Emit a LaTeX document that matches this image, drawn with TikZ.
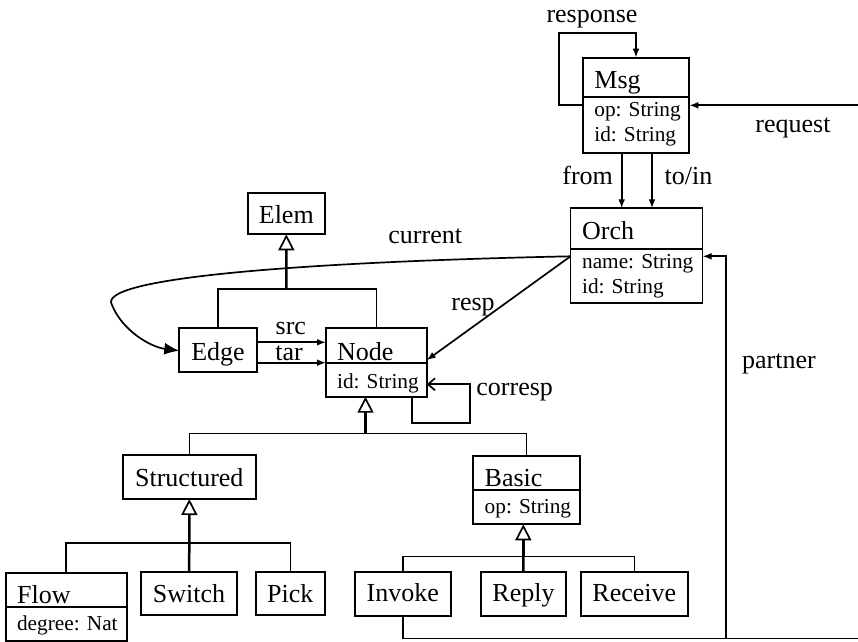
\documentclass[tikz,border=0pt]{standalone}
\usepackage{fontspec}
\setmainfont{Liberation Serif}
\usetikzlibrary{arrows.meta,calc}
\tikzset{
  cls/.style={draw, line width=0.9pt, inner sep=0pt, outer sep=0pt, anchor=north west},
  wh/.style 2 args={minimum width=#1*0.5pt, minimum height=#2*0.5pt},
  nm/.style={font=\fontsize{13}{15}\selectfont, inner sep=0pt},
  attr/.style={font=\fontsize{10.65}{13}\selectfont, inner sep=0pt, anchor=base west},
  lbl/.style={font=\fontsize{13}{15}\selectfont, inner sep=0pt},
  link/.style={line width=0.85pt},
  thicklink/.style={line width=1.25pt},
  assoc/.style={line width=0.85pt, -{Latex[length=4.5pt,width=3.4pt]}},
  bigassoc/.style={line width=0.85pt, -{Latex[length=7.5pt,width=6pt]}},
  openassoc/.style={line width=0.85pt, -{Straight Barb[length=3.5pt,width=6pt]}},
  stem/.style={line width=1.25pt, -{Triangle[open,length=8pt,width=8pt,line width=0.85pt]}},
}
\begin{document}
\begin{tikzpicture}[x=0.5pt,y=-0.5pt]
\useasboundingbox (0,0) rectangle (858,642);

% ---------- classes ----------
\node[cls, wh={106.6}{95}] (msg) at (582.7,57.7) {};
\node[nm, anchor=base west] (msgN) at (594,89) {Msg};
\node[attr] (msgA1) at (594,116.7) {op: String};
\node[attr] (msgA2) at (594,141.7) {id: String};
\draw[link] ($(msg.north west)+(0,39.6)$) -- ($(msg.north east)+(0,39.6)$);

\node[cls, wh={132}{95}] (orch) at (570.5,208.3) {};
\node[nm, anchor=base west] (orchN) at (581.7,240) {Orch};
\node[attr] (orchA1) at (581.7,268.3) {name: String};
\node[attr] (orchA2) at (581.7,293.3) {id: String};
\draw[link] ($(orch.north west)+(0,41)$) -- ($(orch.north east)+(0,41)$);

\node[cls, wh={77.3}{41}] (elem) at (247.7,193.3) {};
\node[nm, anchor=base] (elemN) at (286.3,224) {Elem};

\node[cls, wh={77.4}{44}] (edge) at (179.3,327.7) {};
\node[nm, anchor=base] (edgeN) at (218,360) {Edge};

\node[cls, wh={100.7}{69}] (node) at (326,327.7) {};
\node[nm, anchor=base west] (nodeN) at (336.7,360) {Node};
\node[attr] (nodeA1) at (336.7,388.3) {id: String};
\draw[link] ($(node.north west)+(0,35.6)$) -- ($(node.north east)+(0,35.6)$);

\node[cls, wh={132.7}{44}] (structured) at (123,455) {};
\node[nm, anchor=base] (structuredN) at (189.3,486.7) {Structured};

\node[cls, wh={106.5}{68.6}] (basic) at (473.3,455.7) {};
\node[nm, anchor=base west] (basicN) at (484.3,486) {Basic};
\node[attr] (basicA1) at (484.3,513.3) {op: String};
\draw[link] ($(basic.north west)+(0,34)$) -- ($(basic.north east)+(0,34)$);

\node[cls, wh={121}{68.3}] (flow) at (5.7,572.7) {};
\node[nm, anchor=base west] (flowN) at (16.7,603.3) {Flow};
\node[attr] (flowA1) at (16.7,630.7) {degree: Nat};
\draw[link] ($(flow.north west)+(0,34.6)$) -- ($(flow.north east)+(0,34.6)$);

\node[cls, wh={96.3}{43.6}] (switch) at (141,571.7) {};
\node[nm, anchor=base] (switchN) at (189.1,602.7) {Switch};

\node[cls, wh={69.3}{43.6}] (pick) at (255.7,571.7) {};
\node[nm, anchor=base] (pickN) at (290.3,602.7) {Pick};

\node[cls, wh={95.7}{44.3}] (invoke) at (355,571.7) {};
\node[nm, anchor=base] (invokeN) at (402.8,601.7) {Invoke};

\node[cls, wh={85}{44.3}] (reply) at (481,571.7) {};
\node[nm, anchor=base] (replyN) at (523.5,601.7) {Reply};

\node[cls, wh={107.3}{44.3}] (receive) at (580.7,571.7) {};
\node[nm, anchor=base] (receiveN) at (634.3,601.7) {Receive};

% ---------- generalisations ----------
\coordinate (gElem) at (286.3,289.3);
\draw[stem] (gElem) -- (elem.south);
\draw[link] (edge.north) |- (gElem) -| (node.north);

\coordinate (gNode) at (365.5,433.5);
\draw[stem] (gNode) -- ($(node.south west)+(39.5,0)$);
\draw[link] (structured.north) |- (gNode) -| (basic.north);

\coordinate (gStr) at (189.3,543.3);
\draw[stem] (gStr) -- (structured.south);
\draw[link] (flow.north) |- (gStr) -| (pick.north);
\draw[thicklink] (switch.north) -- (gStr);

\coordinate (gBas) at (523.3,556.5);
\draw[stem] (gBas) -- ($(basic.south west)+(50,0)$);
\draw[link] (invoke.north) |- (gBas) -| (receive.north);
\draw[thicklink] (reply.north) -- (gBas);

% ---------- associations ----------
\draw[assoc] ($(msg.north west)+(0,47.3)$) -- ++(-23.4,0) -- ++(0,-72) -| ($(msg.north west)+(53.3,0)$);
\node[lbl, anchor=base] (responseL) at (592,23) {response};

\coordinate (reqEnd) at (862,105.3);
\draw[assoc] (reqEnd) -- ($(msg.north east)+(0,47.6)$);
\node[lbl, anchor=base west] (requestL) at (755,133) {request};

\draw[assoc] ($(msg.south west)+(39,0)$) -- ($(orch.north west)+(51.2,0)$);
\draw[assoc] ($(msg.south west)+(69.3,0)$) -- ($(orch.north west)+(81.5,0)$);
\node[lbl, anchor=base east] (fromL) at (613.3,185) {from};
\node[lbl, anchor=base west] (toinL) at (664.3,185) {to/in};

\draw[bigassoc] ($(orch.north west)+(0,48)$) .. controls (300,262) and (95,278) .. (112,305)
  .. controls (122,330) and (150,347) .. ($(edge.north west)+(0,23)$);
\node[lbl, anchor=base west] (currentL) at (388,243.3) {current};

\draw[assoc] ($(orch.north west)+(0,48)$) -- ($(node.north east)+(0,32.5)$);
\node[lbl, anchor=base] (respL) at (473,310) {resp};

\draw[openassoc] ($(node.south west)+(85.7,0)$) -- ++(0,26.6) -- ++(58.3,0) |- ($(node.north east)+(0,56.6)$);
\node[lbl, anchor=base west] (correspL) at (476,395) {corresp};

\draw[assoc] ($(edge.north east)+(0,14.6)$) -- ($(node.north west)+(0,14.6)$);
\draw[assoc] ($(edge.north east)+(0,35)$) -- ($(node.north west)+(0,35)$);
\node[lbl, anchor=base] (srcL) at (290.8,335) {src};
\node[lbl, anchor=base] (tarL) at (289,360) {tar};

\coordinate (pEnd) at (862,638.5);
\coordinate (pJoin) at (726,638.5);
\draw[link] (invoke.south) |- (pEnd);
\draw[assoc] (pJoin) |- ($(orch.north east)+(0,48)$);
\node[lbl, anchor=base west] (partnerL) at (741.7,368) {partner};
\end{tikzpicture}
\end{document}
